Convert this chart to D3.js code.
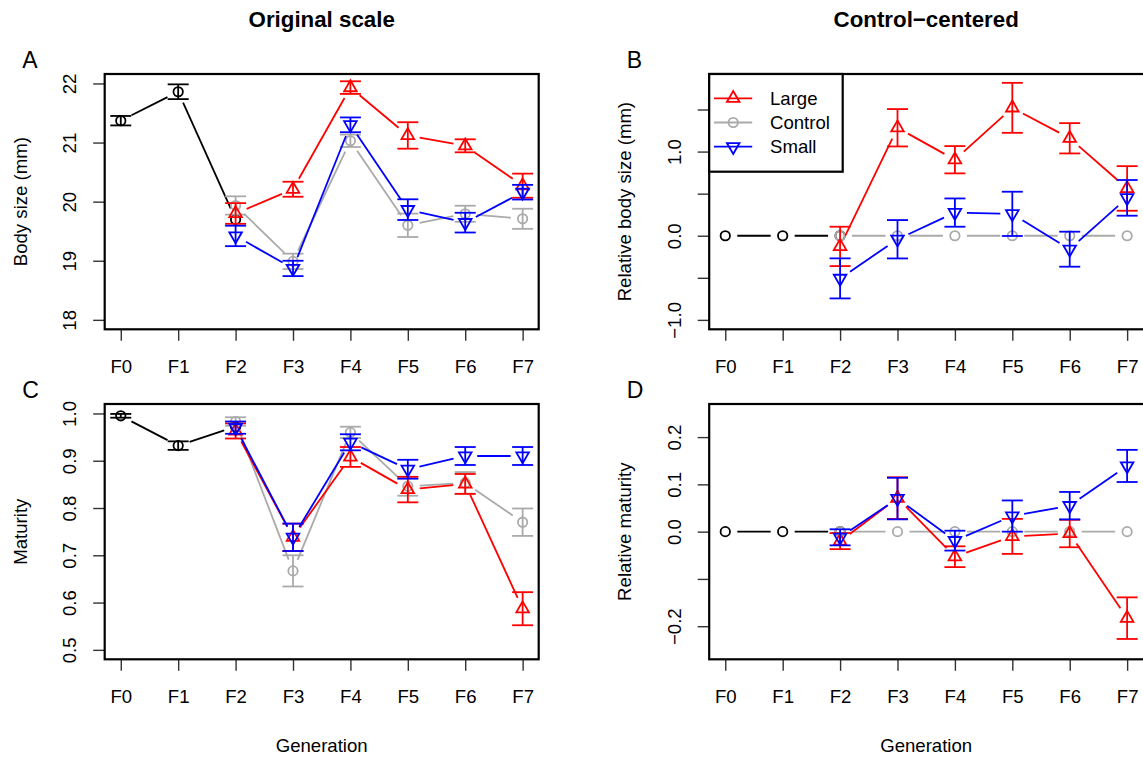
<!DOCTYPE html>
<html><head><meta charset="utf-8">
<script src="https://cdn.jsdelivr.net/npm/d3@7"></script>
<style>
body{margin:0;background:#fff;}
svg{display:block;font-family:"Liberation Sans",Arial,Helvetica,sans-serif;}
</style></head><body>
<svg id="chart" width="1143" height="757"></svg>
<script>
// ---------- data ----------
const generations = ["F0","F1","F2","F3","F4","F5","F6","F7"];
const baseGen = ["F0","F1","F2"];
const selGen = ["F2","F3","F4","F5","F6","F7"];
const seriesNames = ["Large","Control","Small"];
const panelTitles = ["Original scale","Control\u2212centered"];
const xAxisTitle = "Generation";

// Panel A: body size (mm)
const sizeBaseMean = [21.37, 21.86, 19.70];
const sizeBaseSE = [0.08, 0.125, 0];
const sizeLargeMean = [19.80, 20.21, 21.93, 21.12, 20.945, 20.27];
const sizeLargeSE = [0.175, 0.127, 0.107, 0.224, 0.11, 0.204];
const sizeControlMean = [19.935, 18.99, 21.03, 19.60, 19.795, 19.71];
const sizeControlSE = [0.155, 0.13, 0.105, 0.198, 0.136, 0.17];
const sizeSmallMean = [19.42, 18.87, 21.30, 19.865, 19.645, 20.16];
const sizeSmallSE = [0.173, 0.13, 0.125, 0.175, 0.167, 0.124];
const sizeTicks = [18, 19, 20, 21, 22];
const sizeTickLabels = ["18","19","20","21","22"];

// Panel B: relative body size (mm)
const relSizeBaseMean = [0, 0, 0];
const relSizeLargeMean = [-0.127, 1.283, 0.903, 1.52, 1.158, 0.562];
const relSizeLargeSE = [0.234, 0.222, 0.162, 0.297, 0.18, 0.265];
const relSizeControlMean = [0, 0, 0, 0, 0, 0];
const relSizeSmallMean = [-0.507, -0.042, 0.275, 0.26, -0.16, 0.45];
const relSizeSmallSE = [0.238, 0.228, 0.168, 0.263, 0.208, 0.212];
const relSizeTicks = [-1, -0.5, 0, 0.5, 1, 1.5];
const relSizeTickLabels = ["\u22121.0", "", "0.0", "", "1.0", ""];

// Panel C: maturity
const matBaseMean = [0.995, 0.932, 0.972];
const matBaseSE = [0.004, 0.009, 0];
const matLargeMean = [0.963, 0.738, 0.908, 0.839, 0.851, 0.587];
const matLargeSE = [0.016, 0.029, 0.021, 0.027, 0.021, 0.035];
const matControlMean = [0.983, 0.667, 0.96, 0.846, 0.853, 0.77];
const matControlSE = [0.009, 0.033, 0.012, 0.02, 0.023, 0.029];
const matSmallMean = [0.970, 0.738, 0.939, 0.882, 0.91, 0.91];
const matSmallSE = [0.013, 0.029, 0.017, 0.02, 0.019, 0.019];
const matTicks = [0.5, 0.6, 0.7, 0.8, 0.9, 1.0];
const matTickLabels = ["0.5","0.6","0.7","0.8","0.9","1.0"];

// Panel D: relative maturity
const relMatBaseMean = [0, 0, 0];
const relMatLargeMean = [-0.02, 0.071, -0.053, -0.01, -0.004, -0.183];
const relMatLargeSE = [0.017, 0.044, 0.022, 0.037, 0.029, 0.044];
const relMatControlMean = [0, 0, 0, 0, 0, 0];
const relMatSmallMean = [-0.012, 0.07, -0.019, 0.033, 0.055, 0.139];
const relMatSmallSE = [0.017, 0.044, 0.021, 0.033, 0.029, 0.034];
const relMatTicks = [-0.2, -0.1, 0, 0.1, 0.2];
const relMatTickLabels = ["\u22120.2", "", "0.0", "0.1", "0.2"];

// ---------- styles ----------
const COL = {base:"#000000", Large:"#FF0000", Control:"#AAAAAA", Small:"#0000FF"};
const FS = 18.6;

const svg = d3.select("#chart");
svg.append("rect").attr("width",1143).attr("height",757).attr("fill","#fff");

const PW = 434, PH = 255.3;
const LEFTS = [104.7, 709.2], TOPS = [74, 404];

function markerPath(shape){
  if (shape === "up") return "M0,-7.3L6.3,3.65L-6.3,3.65Z";
  if (shape === "down") return "M0,7.3L6.3,-3.65L-6.3,-3.65Z";
  return d3.arc()({innerRadius:0, outerRadius:4.7, startAngle:0, endAngle:2*Math.PI});
}

function drawSeries(g, x, y, gens, means, ses, color, shape){
  const pts = gens.map((gname,i)=>({px:x(generations.indexOf(gname)), py:y(means[i]), m:means[i], s:ses?ses[i]:0}));
  const gap = 12;
  // lines with gaps (type "b")
  for (let i=0;i<pts.length-1;i++){
    const a=pts[i], b=pts[i+1];
    const dx=b.px-a.px, dy=b.py-a.py, d=Math.hypot(dx,dy);
    if (d <= 2*gap) continue;
    const ux=dx/d, uy=dy/d;
    g.append("line").attr("x1",a.px+ux*gap).attr("y1",a.py+uy*gap)
      .attr("x2",b.px-ux*gap).attr("y2",b.py-uy*gap)
      .attr("stroke",color).attr("stroke-width",1.8);
  }
  // error bars
  pts.forEach(p=>{
    if (!p.s) return;
    const yt=y(p.m+p.s), yb=y(p.m-p.s);
    g.append("line").attr("x1",p.px).attr("x2",p.px).attr("y1",yt).attr("y2",yb)
      .attr("stroke",color).attr("stroke-width",1.8);
    [yt,yb].forEach(yy=>g.append("line").attr("x1",p.px-10.5).attr("x2",p.px+10.5)
      .attr("y1",yy).attr("y2",yy).attr("stroke",color).attr("stroke-width",1.8));
  });
  // markers
  pts.forEach(p=>{
    g.append("path").attr("d",markerPath(shape))
      .attr("transform",`translate(${p.px},${p.py})`)
      .attr("fill","none").attr("stroke",color).attr("stroke-width",1.8);
  });
}

function panel(cfg){
  const x0 = LEFTS[cfg.col], y0 = TOPS[cfg.row];
  const x = d3.scaleLinear().domain([-0.28, 7.28]).range([x0, x0+PW]);
  const y = d3.scaleLinear().domain(cfg.yDomain).range([y0+PH, y0]);
  const g = svg.append("g");

  // x axis
  const xa = g.append("g").attr("transform",`translate(0,${y0+PH})`)
    .call(d3.axisBottom(x).tickValues(d3.range(generations.length))
      .tickFormat(i=>generations[i]).tickSize(11.5).tickSizeOuter(0));
  xa.select(".domain").remove();
  xa.selectAll(".tick line").attr("stroke","#333").attr("stroke-width",1.4);
  xa.selectAll(".tick text").attr("y",44).attr("dy",0)
    .attr("font-size",FS).attr("fill","#000").attr("font-family",null);

  // y axis
  const ya = g.append("g").attr("transform",`translate(${x0},0)`)
    .call(d3.axisLeft(y).tickValues(cfg.yTicks)
      .tickFormat((d,i)=>cfg.yTickLabels[i]).tickSize(11.5).tickSizeOuter(0));
  ya.select(".domain").remove();
  ya.selectAll(".tick line").attr("stroke","#333").attr("stroke-width",1.4);
  ya.selectAll(".tick text").attr("x",0).attr("dy",0)
    .attr("text-anchor","middle").attr("transform","translate(-28.5,0) rotate(-90)")
    .attr("font-size",FS).attr("fill","#000").attr("font-family",null);

  // y label
  g.append("text").attr("transform",`translate(${x0-78},${y0+PH/2}) rotate(-90)`)
    .attr("text-anchor","middle").attr("font-size",FS).text(cfg.ylab);

  // panel letter
  g.append("text").attr("x",x0-82.5).attr("y",y0-5.7).attr("font-size",23).text(cfg.letter);

  // series
  const s = cfg.series;
  drawSeries(g, x, y, baseGen, s.baseMean, s.baseSE, COL.base, "circle");
  drawSeries(g, x, y, selGen, s.controlMean, s.controlSE, COL.Control, "circle");
  drawSeries(g, x, y, selGen, s.largeMean, s.largeSE, COL.Large, "up");
  drawSeries(g, x, y, selGen, s.smallMean, s.smallSE, COL.Small, "down");

  // box (right-hand panels run off the cropped canvas edge, as in the reference)
  const bw = cfg.col === 1 ? PW + 4 : PW;
  g.append("rect").attr("x",x0).attr("y",y0).attr("width",bw).attr("height",PH)
    .attr("fill","none").attr("stroke","#000").attr("stroke-width",2.2);

  if (cfg.row===0){
    g.append("text").attr("x",x0+PW/2).attr("y",y0-47.3).attr("text-anchor","middle")
      .attr("font-size",22.3).attr("font-weight","bold").text(panelTitles[cfg.col]);
  } else {
    g.append("text").attr("x",x0+PW/2).attr("y",y0+PH+92.4).attr("text-anchor","middle")
      .attr("font-size",FS).text(xAxisTitle);
  }

  if (cfg.legend){
    const lg = g.append("g");
    lg.append("rect").attr("x",x0).attr("y",y0).attr("width",133.5).attr("height",97.7)
      .attr("fill","#fff").attr("stroke","#000").attr("stroke-width",2.2);
    const shapes = ["up","circle","down"];
    seriesNames.forEach((nm,i)=>{
      const yy = y0 + 24.3 + i*24.2;
      const c = COL[nm];
      lg.append("line").attr("x1",x0+4.8).attr("x2",x0+43).attr("y1",yy).attr("y2",yy)
        .attr("stroke",c).attr("stroke-width",1.8);
      lg.append("path").attr("d",markerPath(shapes[i])).attr("transform",`translate(${x0+24},${yy})`)
        .attr("fill","none").attr("stroke",c).attr("stroke-width",1.8);
      lg.append("text").attr("x",x0+60.8).attr("y",yy+6.6).attr("font-size",FS).text(nm);
    });
  }
}

panel({row:0,col:0,letter:"A",ylab:"Body size (mm)",yDomain:[17.84,22.16],
  yTicks:sizeTicks,yTickLabels:sizeTickLabels,
  series:{baseMean:sizeBaseMean,baseSE:sizeBaseSE,largeMean:sizeLargeMean,largeSE:sizeLargeSE,
    controlMean:sizeControlMean,controlSE:sizeControlSE,smallMean:sizeSmallMean,smallSE:sizeSmallSE}});
panel({row:0,col:1,letter:"B",ylab:"Relative body size (mm)",yDomain:[-1.112,1.922],
  yTicks:relSizeTicks,yTickLabels:relSizeTickLabels,legend:true,
  series:{baseMean:relSizeBaseMean,baseSE:null,largeMean:relSizeLargeMean,largeSE:relSizeLargeSE,
    controlMean:relSizeControlMean,controlSE:null,smallMean:relSizeSmallMean,smallSE:relSizeSmallSE}});
panel({row:1,col:0,letter:"C",ylab:"Maturity",yDomain:[0.48,1.02],
  yTicks:matTicks,yTickLabels:matTickLabels,
  series:{baseMean:matBaseMean,baseSE:matBaseSE,largeMean:matLargeMean,largeSE:matLargeSE,
    controlMean:matControlMean,controlSE:matControlSE,smallMean:matSmallMean,smallSE:matSmallSE}});
panel({row:1,col:1,letter:"D",ylab:"Relative maturity",yDomain:[-0.27,0.27],
  yTicks:relMatTicks,yTickLabels:relMatTickLabels,
  series:{baseMean:relMatBaseMean,baseSE:null,largeMean:relMatLargeMean,largeSE:relMatLargeSE,
    controlMean:relMatControlMean,controlSE:null,smallMean:relMatSmallMean,smallSE:relMatSmallSE}});
</script>
</body></html>
